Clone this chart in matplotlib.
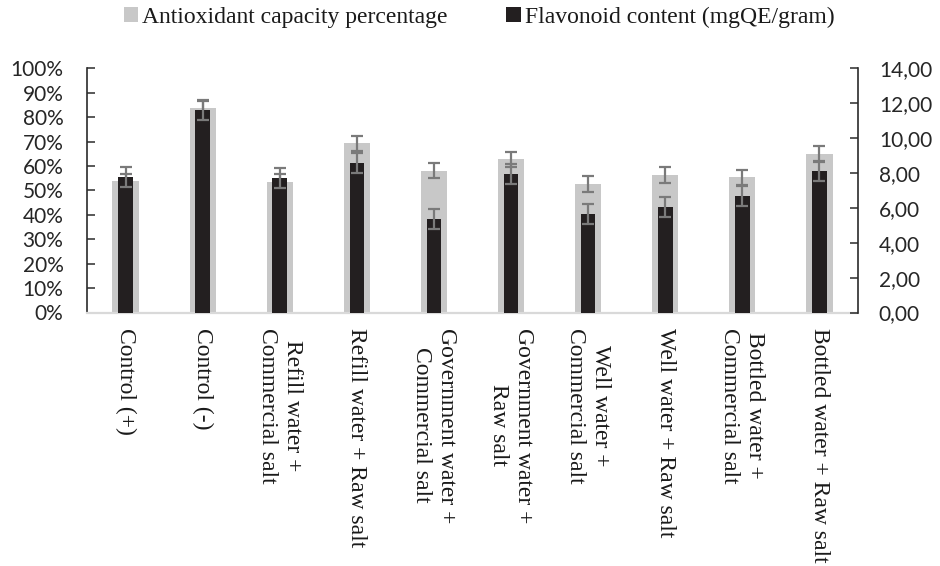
import matplotlib
matplotlib.use("Agg")
import matplotlib.pyplot as plt
import matplotlib.transforms as mtransforms
from matplotlib.patches import Patch
from matplotlib.ticker import FuncFormatter, MultipleLocator
import numpy as np

# Treatment groups (line breaks as printed under each bar pair)
categories = [
    "Control (+)",
    "Control (-)",
    "Refill water +\nCommercial salt",
    "Refill water + Raw salt",
    "Government water +\nCommercial salt",
    "Government water +\nRaw salt",
    "Well water +\nCommercial salt",
    "Well water + Raw salt",
    "Bottled water +\nCommercial salt",
    "Bottled water + Raw salt",
]

# Antioxidant capacity (%), left axis
antioxidant = [53.8, 83.6, 53.6, 69.3, 58.1, 62.7, 52.6, 56.3, 55.4, 64.9]
antioxidant_err = [3.1, 3.1, 3.1, 3.0, 3.1, 3.1, 3.2, 3.1, 3.1, 3.2]

# Flavonoid content (mgQE/gram), right axis
flavonoid = [7.79, 11.61, 7.70, 8.56, 5.36, 7.94, 5.63, 6.04, 6.68, 8.13]
flavonoid_err = [0.57, 0.57, 0.56, 0.57, 0.57, 0.57, 0.57, 0.57, 0.57, 0.57]

series_labels = ["Antioxidant capacity percentage", "Flavonoid content (mgQE/gram)"]

GRAY = "#c8c8c8"
DARK = "#231f20"
ERR = "#7a7a7a"
AXIS = "#2b2b2b"

W, H = 940, 566
fig = plt.figure(figsize=(W / 100, H / 100), dpi=100)
ax = fig.add_axes([87 / W, 1 - 312.5 / H, (858 - 87) / W, 244.2 / H])
ax2 = ax.twinx()

x = np.arange(len(categories))

ax.bar(x, antioxidant, width=0.34, color=GRAY, zorder=2)
ax.errorbar(x, antioxidant, yerr=antioxidant_err, fmt="none", ecolor=ERR,
            elinewidth=1.6, capsize=4.3, capthick=1.6, zorder=3)

ax2.bar(x, flavonoid, width=0.19, color=DARK, zorder=2)
ax2.errorbar(x, flavonoid, yerr=flavonoid_err, fmt="none", ecolor=ERR,
             elinewidth=1.6, capsize=4.3, capthick=1.6, zorder=3)

ax.set_xlim(-0.5, len(categories) - 0.5)
ax.set_ylim(0, 100)
ax2.set_ylim(0, 14)

ax.yaxis.set_major_locator(MultipleLocator(10))
ax.yaxis.set_major_formatter(FuncFormatter(lambda v, p: f"{int(round(v))}%"))
ax2.yaxis.set_major_locator(MultipleLocator(2))
ax2.yaxis.set_major_formatter(FuncFormatter(lambda v, p: f"{v:.2f}".replace(".", ",")))

tick_font = dict(family="Lato", size=15)
ax.tick_params(axis="y", direction="in", length=5.5, width=1.1, color=AXIS,
               pad=17, labelcolor="#262626")
ax2.tick_params(axis="y", direction="in", length=5.5, width=1.1, color=AXIS,
                pad=15, labelcolor="#262626")
for lab in ax.get_yticklabels() + ax2.get_yticklabels():
    lab.set_fontfamily(tick_font["family"])
    lab.set_fontsize(tick_font["size"])

ax.set_xticks([])
ax2.set_xticks([])

for s in ("top", "right"):
    ax.spines[s].set_visible(False)
ax.spines["left"].set_color(AXIS)
ax.spines["left"].set_linewidth(1.2)
ax.spines["bottom"].set_color("#d9d9d9")
ax.spines["bottom"].set_linewidth(1.6)
for s in ("top", "left", "bottom"):
    ax2.spines[s].set_visible(False)
ax2.spines["right"].set_color(AXIS)
ax2.spines["right"].set_linewidth(1.2)

# Category labels, rotated and hanging below the axis
trans = mtransforms.blended_transform_factory(ax.transData, ax.transAxes)
for i, lab in enumerate(categories):
    ax.text(x[i], -15 / 244.2, lab, transform=trans, rotation=270,
            ha="center", va="top", multialignment="center",
            family="Liberation Serif", fontsize=17, color="#1a1a1a",
            linespacing=1.25)

handles = [Patch(facecolor=GRAY, edgecolor="none"),
           Patch(facecolor=DARK, edgecolor="none")]
fig.legend(handles, series_labels, loc="center",
           bbox_to_anchor=(479 / W, 1 - 17 / H), ncol=2, frameon=False,
           prop=dict(family="Liberation Serif", size=17),
           handlelength=0.62, handleheight=0.62, handletextpad=0.15,
           columnspacing=2.5, borderpad=0, borderaxespad=0,
           labelcolor="#1a1a1a")

fig.savefig("out.png", dpi=100)
